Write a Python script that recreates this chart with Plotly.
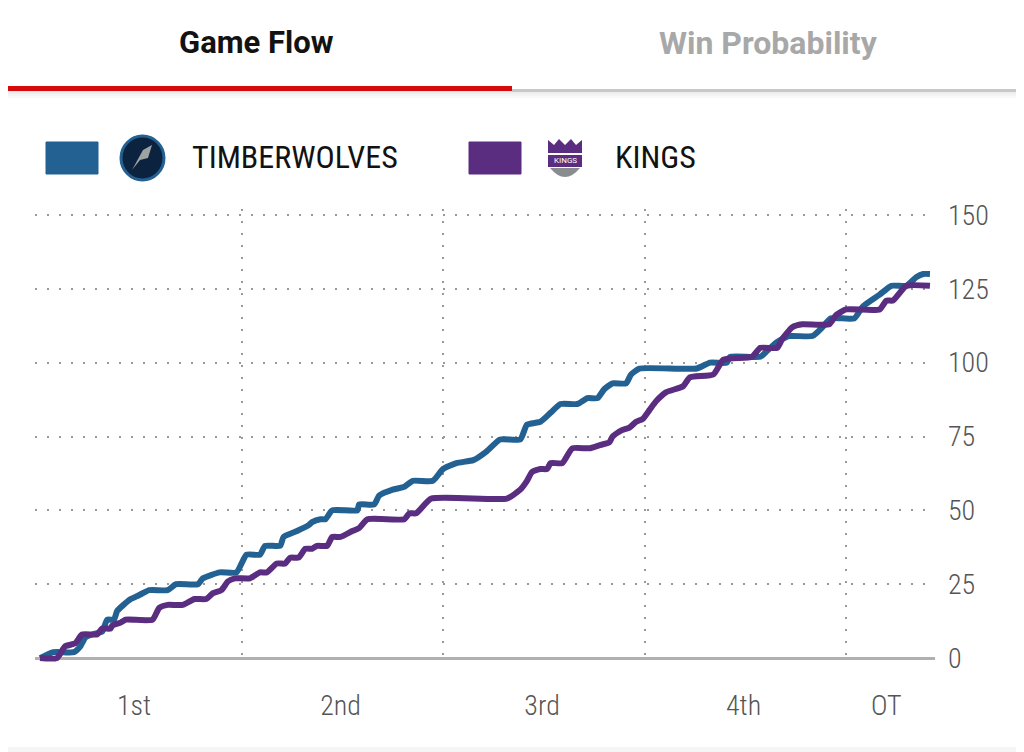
import plotly.graph_objects as go

# game clock in minutes (4 x 12 min + 5 min OT) and running score
wolves_t = [0.0, 0.8, 2.0, 2.4, 2.7, 3.1, 3.7, 4.0, 4.4, 4.6, 5.4, 5.8, 6.5, 7.6, 8.1, 9.4,
            9.7, 10.7, 11.7, 12.3, 13.1, 13.4, 14.3, 14.5, 15.3, 16.0, 16.2, 16.7, 17.0,
            17.4, 18.9, 19.0, 19.9, 20.2, 21.0, 21.7, 22.2, 23.4, 24.0, 24.8, 25.8, 26.6,
            27.4, 28.6, 29.0, 29.8, 30.4, 31.0, 32.0, 32.6, 33.2, 33.6, 34.1, 34.9, 35.2,
            35.7, 39.1, 39.9, 40.9, 41.1, 42.9, 43.3, 43.9, 44.6, 46.0, 46.6, 47.1, 48.5,
            49.0, 50.0, 50.7, 51.6, 52.2, 52.6, 53.0]
wolves_pts = [0, 2, 2, 4, 7, 8, 9, 13, 13, 16, 20, 21, 23, 23, 25, 25,
              27, 29, 29, 35, 35, 38, 38, 41, 43, 45, 46, 47, 47,
              50, 50, 52, 52, 55, 57, 58, 60, 60, 64, 66, 67, 70,
              74, 74, 79, 80, 83, 86, 86, 88, 88, 91, 93, 93, 96,
              98, 98, 100, 100, 102, 102, 104, 107, 109, 109, 112, 115, 115,
              119, 123, 126, 126, 129, 130, 130]

kings_t = [0.0, 1.0, 1.5, 2.1, 2.5, 3.4, 3.7, 4.2, 4.3, 4.8, 5.1, 6.7, 7.1, 7.6, 8.5, 9.2,
           9.9, 10.3, 10.8, 11.2, 11.6, 12.5, 13.1, 13.5, 14.1, 14.6, 14.9, 15.4, 15.8,
           16.2, 16.5, 17.1, 17.4, 17.9, 18.6, 19.0, 19.5, 21.7, 22.0, 22.4, 23.3, 27.8,
           28.6, 29.0, 29.3, 29.8, 30.2, 30.4, 31.1, 31.7, 32.7, 33.3, 33.9, 34.1, 34.6,
           35.1, 35.5, 35.9, 36.3, 36.7, 37.3, 38.3, 38.7, 40.1, 40.7, 42.4, 42.9, 43.9,
           44.2, 44.8, 45.4, 47.0, 47.4, 48.0, 50.0, 50.4, 50.8, 51.6, 53.0]
kings_pts = [0, 0, 4, 5, 8, 8, 10, 10, 11, 12, 13, 13, 17, 18, 18, 20,
             20, 22, 23, 26, 27, 27, 29, 29, 32, 32, 34, 34, 37,
             37, 38, 38, 41, 41, 43, 44, 47, 47, 49, 49, 54, 54,
             57, 60, 63, 64, 64, 66, 66, 71, 71, 72, 73, 75, 77,
             78, 80, 81, 84, 87, 90, 92, 95, 96, 101, 102, 105, 105,
             108, 112, 113, 113, 116, 118, 118, 121, 121, 126, 126]

period_labels = ["1st", "2nd", "3rd", "4th", "OT"]
period_label_pos = [5.6, 17.9, 29.9, 41.9, 50.4]
period_breaks = [12, 24, 36, 48]
score_ticks = [0, 25, 50, 75, 100, 125, 150]

BLUE = "#236192"
PURPLE = "#5a2d81"
OFF = 8  # page body margin
W, H = 1016, 744
L, R, T, B = 27, 89, 201, 88
PW, PH = W - L - R, H - T - B


def px(x):
    return (x - OFF - L) / PW


def py(y):
    return (H - B - (y - OFF)) / PH


fig = go.Figure()
fig.add_trace(go.Scatter(x=wolves_t, y=wolves_pts, mode="lines", name="TIMBERWOLVES",
                         line=dict(color=BLUE, width=6, shape="spline", smoothing=0.5)))
fig.add_trace(go.Scatter(x=kings_t, y=kings_pts, mode="lines", name="KINGS",
                         line=dict(color=PURPLE, width=6, shape="spline", smoothing=0.5)))

COND = "Roboto Condensed, Liberation Sans Narrow, Lato"
tick_font = dict(family=COND, size=28, color="#555555", weight=300)

fig.update_layout(
    width=W, height=H,
    margin=dict(l=L, r=R, t=T, b=B),
    paper_bgcolor="white", plot_bgcolor="white",
    showlegend=False,
    xaxis=dict(range=[-0.3, 53.3], tickvals=period_label_pos, ticktext=period_labels,
               showgrid=False, zeroline=False, showline=False, ticks="",
               tickfont=tick_font, ticklabelstandoff=22,
               minor=dict(tickvals=period_breaks, showgrid=True, gridcolor="#999999",
                          gridwidth=2, griddash="2px,10px")),
    yaxis=dict(range=[-2, 152], tickvals=score_ticks, side="right",
               showgrid=True, gridcolor="#999999", gridwidth=2, griddash="2px,10px",
               zeroline=True, zerolinecolor="#b0b0b0", zerolinewidth=3,
               showline=False, ticks="", tickfont=tick_font, ticklabelstandoff=12),
)

shapes = []
# tab bar
for i, c in enumerate(["#e6e6e6", "#eeeeee", "#f4f4f4", "#f9f9f9"]):
    shapes.append(dict(type="rect", xref="paper", yref="paper", x0=px(0), x1=px(1040),
                       y0=py(92 + 2 * i), y1=py(90 + 2 * i), fillcolor=c, line_width=0,
                       layer="below"))
shapes.append(dict(type="rect", xref="paper", yref="paper", x0=px(512), x1=px(1040),
                   y0=py(92), y1=py(89), fillcolor="#c8c8c8", line_width=0))
shapes.append(dict(type="rect", xref="paper", yref="paper", x0=px(0), x1=px(512),
                   y0=py(91), y1=py(86), fillcolor="#d50a0a", line_width=0))
# bottom edge
shapes.append(dict(type="rect", xref="paper", yref="paper", x0=px(0), x1=px(1040),
                   y0=py(760), y1=py(747), fillcolor="#f5f5f5", line_width=0))
# legend swatches
for x0, c in [(46, BLUE), (469, PURPLE)]:
    shapes.append(dict(type="rect", xref="paper", yref="paper", x0=px(x0), x1=px(x0 + 52),
                       y0=py(174), y1=py(142), fillcolor=c, line=dict(color=c, width=1)))
# wolves logo (approximation)
shapes.append(dict(type="circle", xref="paper", yref="paper", x0=px(121), x1=px(164),
                   y0=py(180), y1=py(136), fillcolor="#0c2340",
                   line=dict(color="#236192", width=3)))
shapes.append(dict(type="path", xref="paper", yref="paper",
                   path=f"M {px(132)},{py(170)} L {px(143)},{py(150)} L {px(152)},{py(145)} "
                        f"L {px(148)},{py(158)} L {px(140)},{py(160)} Z",
                   fillcolor="#9ea2a2", line_width=0))
# kings logo (approximation)
shapes.append(dict(type="path", xref="paper", yref="paper",
                   path=f"M {px(548)},{py(153)} L {px(548)},{py(140)} L {px(554)},{py(145)} "
                        f"L {px(559)},{py(139)} L {px(565)},{py(145)} L {px(571)},{py(139)} "
                        f"L {px(576)},{py(145)} L {px(582)},{py(140)} L {px(582)},{py(153)} Z",
                   fillcolor="#5a2d81", line_width=0))
shapes.append(dict(type="rect", xref="paper", yref="paper", x0=px(548), x1=px(582),
                   y0=py(167), y1=py(155), fillcolor="#5a2d81", line_width=0))
shapes.append(dict(type="path", xref="paper", yref="paper",
                   path=f"M {px(550)},{py(168)} Q {px(565)},{py(186)} {px(580)},{py(168)} Z",
                   fillcolor="#8a8d8f", line_width=0))
fig.update_layout(shapes=shapes)

annotations = [
    dict(text="<b>Game Flow</b>", x=px(256), y=py(42),
         font=dict(size=31, color="#121212", family="Roboto")),
    dict(text="<b>Win Probability</b>", x=px(768), y=py(43),
         font=dict(size=32, color="#a8a8a8", family="Roboto")),
    dict(text="TIMBERWOLVES", x=px(190), y=py(157), xanchor="left",
         font=dict(size=32, color="#121212", family=COND)),
    dict(text="KINGS", x=px(613), y=py(157), xanchor="left",
         font=dict(size=32, color="#121212", family=COND)),
    dict(text="KINGS", x=px(565), y=py(161), font=dict(size=8, color="white", family="Roboto")),
]
for a in annotations:
    a.update(xref="paper", yref="paper", showarrow=False)
    a.setdefault("xanchor", "center")
    a["yanchor"] = "middle"
fig.update_layout(annotations=annotations)

fig.write_html("out.html")
